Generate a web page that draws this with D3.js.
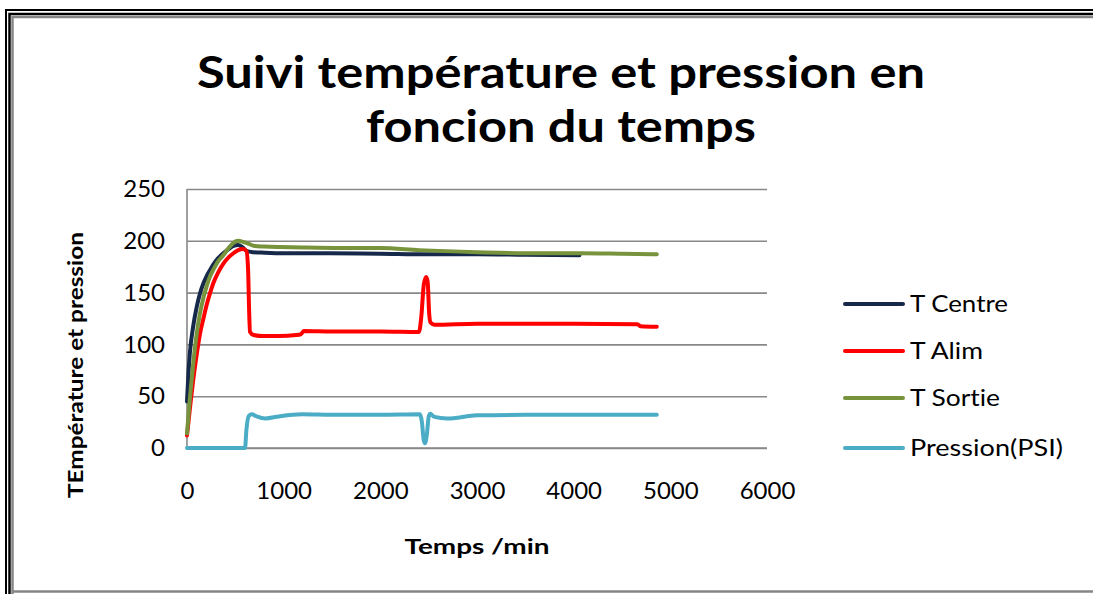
<!DOCTYPE html>
<html>
<head>
<meta charset="utf-8">
<script src="https://cdn.jsdelivr.net/npm/d3@7"></script>
<style>
  html, body { margin: 0; padding: 0; background: #fff; overflow: hidden; }
  svg { display: block; }
  text { font-family: Lato, "Open Sans", "Liberation Sans", sans-serif; fill: #000;
         font-variant-ligatures: none; font-feature-settings: "liga" 0, "clig" 0; }
</style>
</head>
<body>
<svg id="chart" width="1093" height="594"></svg>
<script>
// Time axis (minutes) and readings for each probe
const centreTime  = [0, 15, 30, 65, 100, 134, 170, 203, 240, 272, 320, 376, 430, 480, 530, 570, 620, 686, 800, 1000, 1400, 2000, 2500, 3000, 3500, 4060];
const centreValue = [45, 72, 92, 118, 136, 149, 159, 166, 172, 177, 183, 188, 192, 195, 196, 194, 190, 189, 188.5, 188, 188, 187.5, 187, 187, 186.5, 186];

const alimTime  = [0, 30, 65, 100, 134, 170, 203, 240, 272, 320, 376, 430, 480, 530, 580, 615, 632, 642, 652, 690, 790, 950, 1130, 1180, 1210, 1500, 2000, 2400, 2425, 2450, 2475, 2490, 2505, 2520, 2560, 3000, 3500, 4000, 4660, 4690, 4860];
const alimValue = [12, 38, 66, 90, 110, 125, 138, 150, 159, 169, 178, 184, 188, 191, 192, 190, 172, 135, 112, 109, 108, 108, 109, 110, 113, 112.5, 112.5, 112, 128, 158, 165, 160, 130, 121, 119, 120, 120, 120, 119.5, 117.5, 117];

const sortieTime  = [0, 30, 65, 100, 134, 170, 203, 240, 272, 320, 376, 430, 480, 530, 580, 640, 700, 800, 962, 1200, 1600, 2000, 2400, 3000, 3500, 4060, 4500, 4860];
const sortieValue = [14, 48, 82, 110, 130, 145, 156, 166, 172, 180, 186, 193, 198, 200, 199, 197, 195, 194.5, 194, 193.5, 193, 193, 191, 189, 188, 188, 187.5, 187];

const pressionTime  = [0, 600, 615, 640, 670, 720, 810, 950, 1190, 1500, 2000, 2410, 2430, 2448, 2462, 2480, 2500, 2515, 2560, 2690, 3000, 3500, 4000, 4860];
const pressionValue = [0, 0, 18, 31, 32.5, 30.5, 28.5, 30.5, 32.5, 32, 32, 32.5, 25, 8, 4.5, 12, 30, 33, 30, 28.5, 31.5, 32, 32, 32];

const seriesNames  = ["T Centre", "T Alim", "T Sortie", "Pression(PSI)"];
const seriesColors = ["#16294a", "#ff0000", "#77933c", "#4bacc6"];

const xTicks = [0, 1000, 2000, 3000, 4000, 5000, 6000];
const yTicks = [0, 50, 100, 150, 200, 250];

const titleLines = ["Suivi température et pression en", "foncion du temps"];
const xTitle = "Temps /min";
const yTitle = "TEmpérature et pression";

const series = [
  { name: seriesNames[0], color: seriesColors[0], t: centreTime,   v: centreValue },
  { name: seriesNames[1], color: seriesColors[1], t: alimTime,     v: alimValue },
  { name: seriesNames[2], color: seriesColors[2], t: sortieTime,   v: sortieValue },
  { name: seriesNames[3], color: seriesColors[3], t: pressionTime, v: pressionValue }
];

const svg = d3.select("#chart");
const W = 1093, H = 594;

svg.append("rect").attr("width", W).attr("height", H).attr("fill", "#fff");

// Border of the chart area: two black rules and a grey one, open on the right
const frame = svg.append("g").attr("fill", "none");
frame.append("path").attr("d", `M6,${H} V10 H${W}`)
  .attr("stroke", "#000").attr("stroke-width", 2);
frame.append("path").attr("d", `M9.5,${H} V14 H${W}`)
  .attr("stroke", "#000").attr("stroke-width", 2.5);
frame.append("path").attr("d", `M12.5,${H} V17 H${W} M12.5,591.5 H${W}`)
  .attr("stroke", "#868686").attr("stroke-width", 2.5);

// Plot region
const plot = { left: 187, right: 767, top: 189, bottom: 448 };

const x = d3.scaleLinear().domain([0, 6000]).range([plot.left, plot.right]);
const y = d3.scaleLinear().domain([0, 250]).range([plot.bottom, plot.top]);

// Horizontal gridlines
svg.append("g")
  .attr("transform", `translate(${plot.left},0)`)
  .call(d3.axisLeft(y).tickValues(yTicks).tickSize(-(plot.right - plot.left)).tickFormat(""))
  .call(g => g.select(".domain").remove())
  .call(g => g.selectAll("line").attr("stroke", "#888").attr("stroke-width", 1.6));

// Axis lines
svg.append("line").attr("x1", plot.left).attr("x2", plot.left)
  .attr("y1", plot.top).attr("y2", plot.bottom).attr("stroke", "#888").attr("stroke-width", 1.6);
svg.append("line").attr("x1", plot.left).attr("x2", plot.right)
  .attr("y1", plot.bottom).attr("y2", plot.bottom).attr("stroke", "#888").attr("stroke-width", 1.6);

// Tick labels
const yAxis = svg.append("g")
  .attr("transform", `translate(${plot.left},0)`)
  .call(d3.axisLeft(y).tickValues(yTicks).tickSize(0).tickPadding(22).tickFormat(d3.format("d")));
yAxis.select(".domain").remove();
yAxis.selectAll("text").style("font-family", "Lato, sans-serif").style("font-size", "24px").attr("fill", "#000");

const xAxis = svg.append("g")
  .attr("transform", `translate(0,${plot.bottom})`)
  .call(d3.axisBottom(x).tickValues(xTicks).tickSize(0).tickPadding(34).tickFormat(d3.format("d")));
xAxis.select(".domain").remove();
xAxis.selectAll("text").style("font-family", "Lato, sans-serif").style("font-size", "24px").attr("fill", "#000");

// Series lines
const line = d3.line().x(d => x(d[0])).y(d => y(d[1])).curve(d3.curveMonotoneX);
svg.append("g").selectAll("path")
  .data(series)
  .join("path")
  .attr("d", s => line(s.t.map((t, i) => [t, s.v[i]])))
  .attr("fill", "none")
  .attr("stroke", s => s.color)
  .attr("stroke-width", 4)
  .attr("stroke-linejoin", "round")
  .attr("stroke-linecap", "round");

// Title, fitted to its line widths
const titleWidths = [728, 390];
const titleBase = [88, 142];
titleLines.forEach((txt, i) => {
  svg.append("text")
    .attr("x", 561).attr("y", titleBase[i])
    .attr("text-anchor", "middle")
    .style("font-weight", "bold").style("font-size", "43px")
    .attr("textLength", titleWidths[i]).attr("lengthAdjust", "spacingAndGlyphs")
    .text(txt);
});

// Axis titles
svg.append("text")
  .attr("x", 477).attr("y", 554)
  .attr("text-anchor", "middle")
  .style("font-weight", "bold").style("font-size", "21px")
  .attr("textLength", 145).attr("lengthAdjust", "spacingAndGlyphs")
  .text(xTitle);

svg.append("text")
  .attr("transform", "translate(83,365) rotate(-90)")
  .attr("text-anchor", "middle")
  .style("font-weight", "bold").style("font-size", "21px")
  .attr("textLength", 266).attr("lengthAdjust", "spacingAndGlyphs")
  .text(yTitle);

// Legend
const legendY = [304, 351, 398, 448];
const legendTextWidth = [98, 73, 90, 153];
const legend = svg.append("g");
series.forEach((s, i) => {
  legend.append("line")
    .attr("x1", 845).attr("x2", 903)
    .attr("y1", legendY[i]).attr("y2", legendY[i])
    .attr("stroke", s.color).attr("stroke-width", 4).attr("stroke-linecap", "round");
  legend.append("text")
    .attr("x", 910).attr("y", legendY[i]).attr("dy", "0.35em")
    .style("font-size", "24px")
    .attr("textLength", legendTextWidth[i]).attr("lengthAdjust", "spacingAndGlyphs")
    .text(s.name);
});
</script>
</body>
</html>
